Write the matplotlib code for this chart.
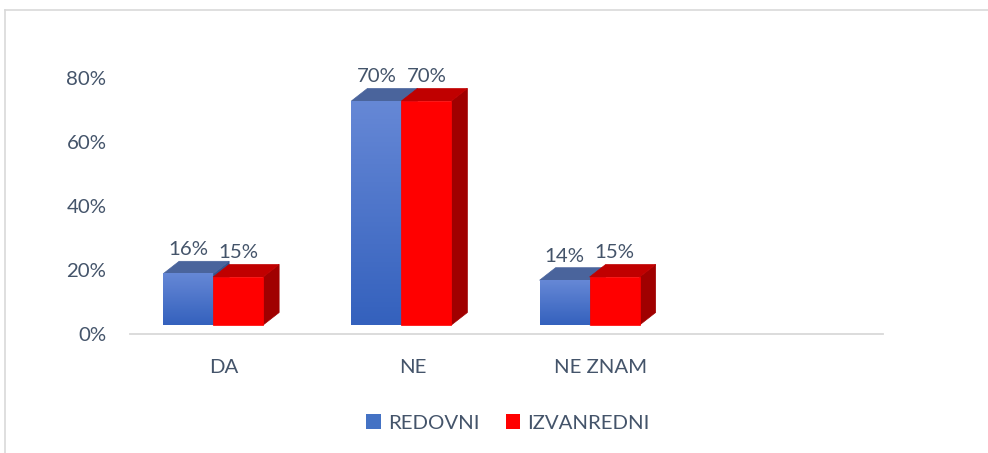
import numpy as np
import matplotlib
matplotlib.use("Agg")
import matplotlib.pyplot as plt
from matplotlib.patches import Polygon, Patch
from matplotlib.lines import Line2D
from matplotlib.colors import LinearSegmentedColormap

categories = ["DA", "NE", "NE ZNAM"]
redovni = [16, 70, 14]
izvanredni = [15, 70, 15]
series_names = ["REDOVNI", "IZVANREDNI"]
yticks = [0, 20, 40, 60, 80]

TXT = "#44546A"
FONT = "Lato"
FS = 14.7

W, H = 988, 453
fig = plt.figure(figsize=(W / 100, H / 100), dpi=100)
# axes: floor line from x=130 to 883 px, y=0 at 334 px, 80 at 78 px
ax = fig.add_axes([130 / W, (H - 334) / H, 753 / W, 256 / H])
ax.set_xlim(-0.5, 3.5)
ax.set_ylim(0, 80)

bw = 50 / 188.25          # bar width in category units
ddx = 16 / 188.25         # depth offset x
ddy = 12.5 / 3.2          # depth offset y (in %)
base = 9 / 3.2            # front face base above floor
shift = -11 / 188.25      # front group shift left from slot center

blue_cmap = LinearSegmentedColormap.from_list("b", ["#3461BD", "#6688D6"])
grad = np.linspace(0, 1, 256).reshape(-1, 1)

def draw_bar(x0, v, front, top, side, gradient=False):
    x1 = x0 + bw
    y0 = base
    y1 = base + v
    ax.add_patch(Polygon([(x1, y0), (x1 + ddx, y0 + ddy), (x1 + ddx, y1 + ddy), (x1, y1)],
                         closed=True, facecolor=side, edgecolor=side, lw=0.5, zorder=3))
    ax.add_patch(Polygon([(x0, y1), (x1, y1), (x1 + ddx, y1 + ddy), (x0 + ddx, y1 + ddy)],
                         closed=True, facecolor=top, edgecolor=top, lw=0.5, zorder=3))
    if gradient:
        ax.imshow(grad, extent=[x0, x1, y0, y1], origin="lower", cmap=blue_cmap,
                  aspect="auto", zorder=3, interpolation="bilinear")
    else:
        ax.add_patch(Polygon([(x0, y0), (x1, y0), (x1, y1), (x0, y1)], closed=True,
                             facecolor=front, edgecolor=front, lw=0.5, zorder=3))

for i, (vb, vr) in enumerate(zip(redovni, izvanredni)):
    gc = i + shift
    xb = gc - bw
    xr = gc
    draw_bar(xb, vb, "#4472C4", "#4A649C", "#34558F", gradient=True)
    draw_bar(xr, vr, "#FF0000", "#C00000", "#A00000")
    for x0, v in ((xb, vb), (xr, vr)):
        ax.text(x0 + bw / 2, base + v + ddy + 1.0, f"{v}%", ha="center", va="bottom",
                fontsize=FS, color=TXT, family=FONT, zorder=5)

ax.set_xticks(range(len(categories)))
ax.set_xticklabels(categories, fontsize=FS, color=TXT, family=FONT)
ax.set_yticks(yticks)
ax.set_yticklabels([f"{t}%" for t in yticks], fontsize=FS, color=TXT, family=FONT)
ax.tick_params(axis="both", length=0)
ax.tick_params(axis="y", pad=17)
ax.tick_params(axis="x", pad=18)
for s in ("top", "right", "left"):
    ax.spines[s].set_visible(False)
ax.spines["bottom"].set_color("#D9D9D9")
ax.spines["bottom"].set_linewidth(1.3)

handles = [Patch(facecolor="#4472C4", edgecolor="none"),
           Patch(facecolor="#FF0000", edgecolor="none")]
leg = fig.legend(handles, series_names, loc="center", bbox_to_anchor=(508 / W, 1 - 423 / H),
                 ncol=2, frameon=False, handlelength=0.7, handleheight=0.7,
                 handletextpad=0.35, columnspacing=1.3,
                 prop={"family": FONT, "size": FS})
for t in leg.get_texts():
    t.set_color(TXT)

# outer border (top and left visible)
fig.add_artist(Line2D([4.5 / W, 4.5 / W], [0, 1 - 9.5 / H], color="#D9D9D9", lw=1.2,
                      transform=fig.transFigure))
fig.add_artist(Line2D([4.5 / W, 1], [1 - 9.5 / H, 1 - 9.5 / H], color="#D9D9D9", lw=1.2,
                      transform=fig.transFigure))

fig.savefig("out.png", dpi=100)
